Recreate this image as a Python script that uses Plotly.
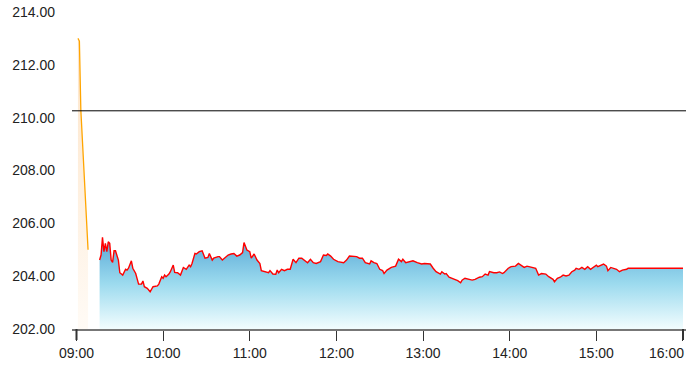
import plotly.graph_objects as go

DAY = "2024-01-02 "

# Pre-session (orange) series
pre_times = ["09:01", "09:02", "09:03", "09:05", "09:08"]
pre_values = [213.00, 212.90, 210.30, 208.00, 205.00]

# Main session series
main_times = [
    "09:16", "09:17", "09:18", "09:19", "09:20", "09:21", "09:22", "09:23", "09:24", "09:25",
    "09:26", "09:27", "09:29", "09:30", "09:32", "09:34", "09:35", "09:36", "09:38", "09:39",
    "09:41", "09:43", "09:45", "09:46", "09:47", "09:49", "09:51", "09:53", "09:56", "09:57",
    "09:59", "10:00", "10:01", "10:02", "10:04", "10:05", "10:07", "10:08", "10:10", "10:12",
    "10:14", "10:16", "10:18", "10:19", "10:20", "10:22", "10:23", "10:25", "10:27", "10:29",
    "10:31", "10:32", "10:34", "10:35", "10:38", "10:39", "10:41", "10:43", "10:45", "10:47",
    "10:49", "10:51", "10:53", "10:55", "10:56", "10:58", "11:00", "11:01", "11:03", "11:05",
    "11:07", "11:08", "11:11", "11:13", "11:14", "11:16", "11:18", "11:19", "11:20", "11:22",
    "11:24", "11:26", "11:28", "11:30", "11:32", "11:34", "11:36", "11:38", "11:40", "11:42",
    "11:44", "11:46", "11:49", "11:51", "11:53", "11:54", "11:56", "11:58", "12:01", "12:05",
    "12:07", "12:09", "12:12", "12:14", "12:16", "12:18", "12:20", "12:23", "12:24", "12:26",
    "12:28", "12:30", "12:32", "12:33", "12:35", "12:37", "12:38", "12:41", "12:42", "12:43",
    "12:45", "12:46", "12:48", "12:50", "12:53", "12:56", "12:59", "13:01", "13:05", "13:07",
    "13:09", "13:12", "13:13", "13:15", "13:16", "13:18", "13:20", "13:22", "13:24", "13:26",
    "13:27", "13:29", "13:31", "13:34", "13:36", "13:39", "13:41", "13:43", "13:45", "13:46",
    "13:49", "13:51", "13:53", "13:55", "13:56", "13:59", "14:01", "14:04", "14:06", "14:08",
    "14:10", "14:12", "14:15", "14:18", "14:20", "14:22", "14:25", "14:27", "14:30", "14:31",
    "14:33", "14:35", "14:37", "14:39", "14:41", "14:43", "14:45", "14:46", "14:48", "14:50",
    "14:52", "14:54", "14:56", "14:58", "15:00", "15:01", "15:03", "15:05", "15:07", "15:08",
    "15:10", "15:12", "15:14", "15:16", "15:18", "15:21", "15:22", "15:26", "16:00",
]
main_values = [
    204.61, 204.80, 205.47, 204.93, 205.24, 204.93, 205.30, 205.24, 204.61, 204.52,
    204.96, 204.96, 204.61, 204.13, 204.04, 204.26, 204.23, 204.30, 204.58, 204.30,
    204.10, 203.70, 203.70, 203.82, 203.60, 203.54, 203.41, 203.60, 203.63, 203.70,
    203.98, 203.92, 204.04, 203.98, 204.08, 204.17, 204.42, 204.14, 204.13, 204.04,
    204.33, 204.26, 204.42, 204.36, 204.48, 204.86, 204.84, 204.93, 204.96, 204.68,
    204.71, 204.86, 204.61, 204.68, 204.74, 204.74, 204.61, 204.71, 204.80, 204.84,
    204.86, 204.76, 204.80, 204.89, 205.27, 204.99, 204.93, 204.68, 204.84, 204.61,
    204.48, 204.21, 204.17, 204.13, 204.21, 204.08, 204.07, 204.23, 204.13, 204.26,
    204.21, 204.26, 204.26, 204.64, 204.51, 204.68, 204.68, 204.58, 204.51, 204.64,
    204.51, 204.48, 204.55, 204.80, 204.78, 204.84, 204.76, 204.64, 204.55, 204.51,
    204.61, 204.76, 204.76, 204.74, 204.68, 204.68, 204.51, 204.46, 204.58, 204.51,
    204.48, 204.26, 204.21, 204.10, 204.23, 204.30, 204.33, 204.38, 204.55, 204.64,
    204.55, 204.64, 204.51, 204.55, 204.58, 204.51, 204.46, 204.48, 204.46, 204.30,
    204.17, 204.08, 204.17, 204.08, 204.10, 203.96, 203.92, 203.88, 203.83, 203.75,
    203.85, 203.92, 203.88, 203.85, 203.88, 203.96, 203.98, 204.08, 204.04, 204.17,
    204.13, 204.13, 204.16, 204.10, 204.13, 204.30, 204.36, 204.38, 204.48, 204.42,
    204.33, 204.38, 204.33, 204.30, 204.04, 204.10, 204.08, 203.98, 203.88, 203.79,
    203.92, 203.96, 204.04, 204.01, 204.04, 204.17, 204.23, 204.30, 204.26, 204.33,
    204.26, 204.36, 204.26, 204.33, 204.42, 204.36, 204.42, 204.46, 204.38, 204.21,
    204.33, 204.30, 204.26, 204.17, 204.23, 204.26, 204.30, 204.30, 204.30,
]

reference_level = 210.26
y_ticks = [202, 204, 206, 208, 210, 212, 214]
x_ticks = ["09:00", "10:00", "11:00", "12:00", "13:00", "14:00", "15:00", "16:00"]

fig = go.Figure()

fig.add_trace(go.Scatter(
    x=[DAY + t for t in pre_times], y=pre_values, mode="lines",
    line=dict(color="#FFA500", width=1.3),
    fill="tozeroy",
    fillgradient=dict(type="vertical", start=202, stop=213,
                      colorscale=[[0, "rgba(255,251,246,1)"], [1, "rgba(253,228,200,1)"]]),
    hoverinfo="skip", showlegend=False,
))

fig.add_trace(go.Scatter(
    x=[DAY + t for t in main_times], y=main_values, mode="lines",
    line=dict(color="#FF0000", width=1.4),
    fill="tozeroy",
    fillgradient=dict(type="vertical", start=202, stop=205.4,
                      colorscale=[[0, "rgb(240,252,254)"], [0.5, "rgb(155,218,238)"], [1, "rgb(88,168,214)"]]),
    showlegend=False,
))

fig.add_shape(type="line", xref="paper", x0=0, x1=1, yref="y",
              y0=reference_level, y1=reference_level,
              line=dict(color="black", width=1))

# thicker end ticks
for t in (x_ticks[0], x_ticks[-1]):
    fig.add_shape(type="line", xref="x", x0=DAY + t, x1=DAY + t,
                  yref="paper", y0=0, y1=-11 / 317,
                  line=dict(color="#333", width=2))

# last tick label, kept inside the chart
fig.add_annotation(text=x_ticks[-1], xref="paper", x=1, xanchor="right",
                   yref="paper", y=0, yanchor="top", yshift=-14,
                   showarrow=False, font=dict(size=14, color="#222"))

fig.update_layout(
    width=696, height=379,
    margin=dict(l=72, r=10, t=12, b=50),
    paper_bgcolor="white", plot_bgcolor="white",
    font=dict(family="Liberation Sans, Arial, sans-serif", size=14, color="#222"),
    xaxis=dict(
        range=[DAY + "08:56:53", DAY + "16:02:05"],
        tickvals=[DAY + t for t in x_ticks], ticktext=x_ticks[:-1] + [""],
        showgrid=False, zeroline=False, automargin=False,
        showline=True, linecolor="#777", linewidth=1.5,
        ticks="outside", ticklen=10, tickcolor="#333", tickwidth=1,
    ),
    yaxis=dict(
        range=[202, 214], automargin=False,
        tickvals=y_ticks, tickformat=".2f",
        showgrid=False, zeroline=False, showline=False,
        ticks="", ticklabelstandoff=16,
    ),
)

fig.write_html("out.html")
